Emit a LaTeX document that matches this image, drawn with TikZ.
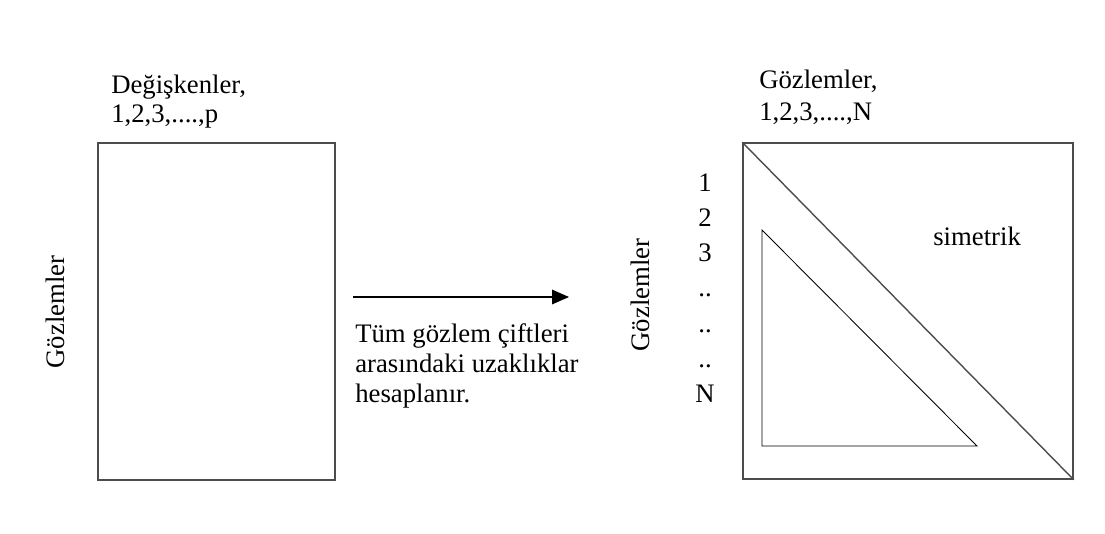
\documentclass[tikz,border=0pt]{standalone}
\usepackage{fontspec}
\setmainfont{Liberation Serif}
\usetikzlibrary{positioning, arrows.meta}

\begin{document}
\begin{tikzpicture}[x=0.025cm, y=-0.025cm, >={Triangle[length=0.42cm, width=0.36cm]},
    font=\fontsize{19}{21.5}\selectfont,
    box/.style={draw=black!70, line width=1pt, inner sep=0pt},
    lbl/.style={inner sep=0pt, anchor=base west},
    num/.style={inner sep=0pt, anchor=base}]
    \useasboundingbox (0,0) rectangle (1105,533);
    % veri matrisi
    \node[box, minimum width=5.925cm, minimum height=8.425cm] (data) at (216.5,311.5) {};
    \node[lbl] (var1) at (111,93) {Değişkenler,};
    \node[lbl] (var2) at (111,122) {1,2,3,....,p};
    \node[inner sep=0pt, rotate=90] (obs1) at (55,312) {Gözlemler};
    % ok ve aciklama
    \coordinate (a1) at (353,297);
    \coordinate (a2) at (569,297);
    \draw[->, line width=1pt] (a1) -- (a2);
    \node[lbl] (t1) at (355,342) {Tüm gözlem çiftleri};
    \node[lbl] (t2) at (355,372) {arasındaki uzaklıklar};
    \node[lbl] (t3) at (355,402) {hesaplanır.};
    % uzaklik matrisi
    \node[box, minimum width=8.25cm, minimum height=8.4cm] (dist) at (908,311) {};
    \draw[line width=1pt, black!70] (dist.north west) -- (dist.south east);
    \draw[line width=0.6pt] (762,230) -- (762,446) -- (977,446) -- cycle;
    \node[lbl] (sym) at (933,245) {simetrik};
    \node[lbl] (obsA) at (759,88) {Gözlemler,};
    \node[lbl] (obsB) at (759,120) {1,2,3,....,N};
    \node[inner sep=0pt, rotate=90] (obs2) at (640,295) {Gözlemler};
    \foreach \t [count=\i from 0] in {1,2,3,..,..,..,N}
        \node[num] (r\i) at (705,191+35.3*\i) {\t};
\end{tikzpicture}
\end{document}
